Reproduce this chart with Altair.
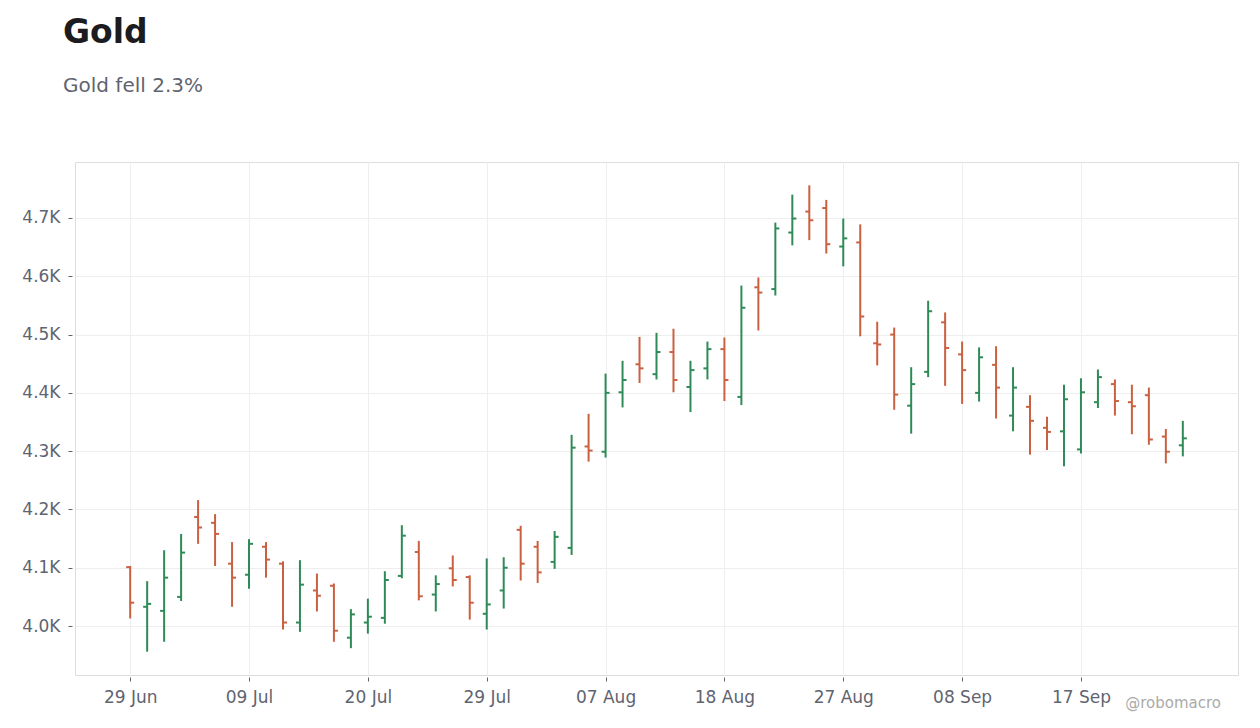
import altair as alt
import pandas as pd

# daily OHLC, one entry per trading day (index 0 = 29 Jun)
opens = [4101, 4033, 4026, 4050, 4187, 4177, 4107, 4088, 4136, 4107,
         4006, 4061, 4069, 3980, 4006, 4014, 4086, 4127, 4054, 4099,
         4084, 4021, 4061, 4165, 4136, 4110, 4134, 4308, 4299, 4401,
         4449, 4432, 4470, 4410, 4442, 4475, 4393, 4581, 4578, 4675,
         4711, 4717, 4651, 4658, 4485, 4500, 4378, 4436, 4521, 4466,
         4400, 4448, 4361, 4376, 4340, 4334, 4303, 4384, 4415, 4384,
         4396, 4325, 4310]
highs = [4103, 4077, 4130, 4158, 4216, 4192, 4144, 4149, 4144, 4111,
         4113, 4090, 4073, 4029, 4047, 4094, 4173, 4146, 4087, 4121,
         4087, 4116, 4118, 4172, 4146, 4163, 4328, 4364, 4433, 4455,
         4496, 4503, 4510, 4455, 4488, 4495, 4584, 4598, 4692, 4740,
         4756, 4731, 4699, 4689, 4522, 4512, 4444, 4558, 4538, 4488,
         4478, 4480, 4444, 4396, 4359, 4414, 4425, 4440, 4423, 4414,
         4409, 4338, 4352]
lows = [4013, 3956, 3973, 4043, 4141, 4103, 4033, 4064, 4083, 3994,
        3990, 4025, 3973, 3962, 3987, 4004, 4082, 4044, 4025, 4068,
        4011, 3994, 4030, 4078, 4074, 4098, 4122, 4282, 4289, 4375,
        4417, 4423, 4401, 4367, 4423, 4386, 4379, 4507, 4567, 4653,
        4662, 4639, 4617, 4497, 4447, 4371, 4330, 4427, 4412, 4381,
        4385, 4356, 4334, 4294, 4302, 4274, 4296, 4374, 4361, 4329,
        4311, 4279, 4291]
closes = [4040, 4038, 4083, 4126, 4169, 4158, 4083, 4141, 4114, 4006,
          4071, 4052, 3992, 4020, 4016, 4079, 4155, 4051, 4072, 4079,
          4040, 4037, 4100, 4107, 4092, 4153, 4306, 4301, 4400, 4422,
          4442, 4470, 4422, 4439, 4475, 4422, 4546, 4572, 4682, 4699,
          4696, 4655, 4665, 4531, 4483, 4397, 4415, 4540, 4477, 4439,
          4461, 4409, 4409, 4352, 4333, 4389, 4401, 4427, 4386, 4377,
          4320, 4299, 4322]

# one label every 7 trading days
tick_idx = [0, 7, 14, 21, 28, 35, 42, 49, 56]
tick_labels = ["29 Jun", "09 Jul", "20 Jul", "29 Jul", "07 Aug",
               "18 Aug", "27 Aug", "08 Sep", "17 Sep"]

UP = "#2e8b57"
DOWN = "#cb6040"
FONT = "DejaVu Sans"
GREY = "#5f6470"

df = pd.DataFrame({
    "idx": list(range(len(opens))),
    "open": opens,
    "high": highs,
    "low": lows,
    "close": closes,
})
df["dir"] = ["up" if c >= o else "down" for o, c in zip(opens, closes)]

label_js = "[" + ",".join(f"'{t}'" for t in tick_labels) + "]"

x = alt.X(
    "idx:Q",
    title=None,
    scale=alt.Scale(domain=[-3.25, 65.25], nice=False, zero=False),
    axis=alt.Axis(values=tick_idx, labelExpr=f"{label_js}[datum.value / 7]",
                  offset=2, tickSize=4, labelPadding=8),
)
color = alt.Color("dir:N", scale=alt.Scale(domain=["up", "down"], range=[UP, DOWN]),
                  legend=None)

base = alt.Chart(df)

wicks = base.mark_rule(strokeWidth=2).encode(
    x=x,
    y=alt.Y(
        "low:Q",
        title=None,
        scale=alt.Scale(domain=[3916, 4796], nice=False, zero=False),
        axis=alt.Axis(values=list(range(4000, 4701, 100)),
                      labelExpr="format(datum.value / 1000, '.1f') + 'K'",
                      offset=3, tickSize=4, labelPadding=8),
    ),
    y2="high:Q",
    color=color,
)
open_ticks = base.mark_tick(orient="horizontal", size=4, thickness=2, xOffset=-2,
                            opacity=1).encode(x="idx:Q", y="open:Q", color=color)
close_ticks = base.mark_tick(orient="horizontal", size=4, thickness=2, xOffset=2,
                             opacity=1).encode(x="idx:Q", y="close:Q", color=color)

mark = alt.Chart(pd.DataFrame({"t": ["@robomacro"]})).mark_text(
    text="@robomacro", font=FONT, fontSize=15, color="#aaaaaa",
    align="right", baseline="alphabetic",
).encode(x=alt.value(1146), y=alt.value(546))

chart = (
    alt.layer(wicks, open_ticks, close_ticks, mark)
    .properties(
        width=1163,
        height=513,
        autosize=alt.AutoSizeParams(type="none"),
        padding={"left": 67, "top": 154, "right": 12, "bottom": 38},
        title=alt.TitleParams(
            text="Gold",
            subtitle="Gold fell 2.3%",
            anchor="start",
            frame="group",
            dx=-12,
            offset=66,
            font=FONT,
            fontSize=33,
            fontWeight="bold",
            color="#1b1b20",
            subtitleFont=FONT,
            subtitleFontSize=20,
            subtitleColor=GREY,
            subtitlePadding=26,
        ),
    )
    .configure_view(stroke="#dddddd", strokeWidth=1)
    .configure_axis(
        labelFont=FONT,
        labelFontSize=17,
        labelColor=GREY,
        tickColor=GREY,
        domain=False,
        gridColor="#eeeeee",
        gridWidth=1,
    )
)

chart.save("out.html", embed_options={"renderer": "svg", "actions": False})
